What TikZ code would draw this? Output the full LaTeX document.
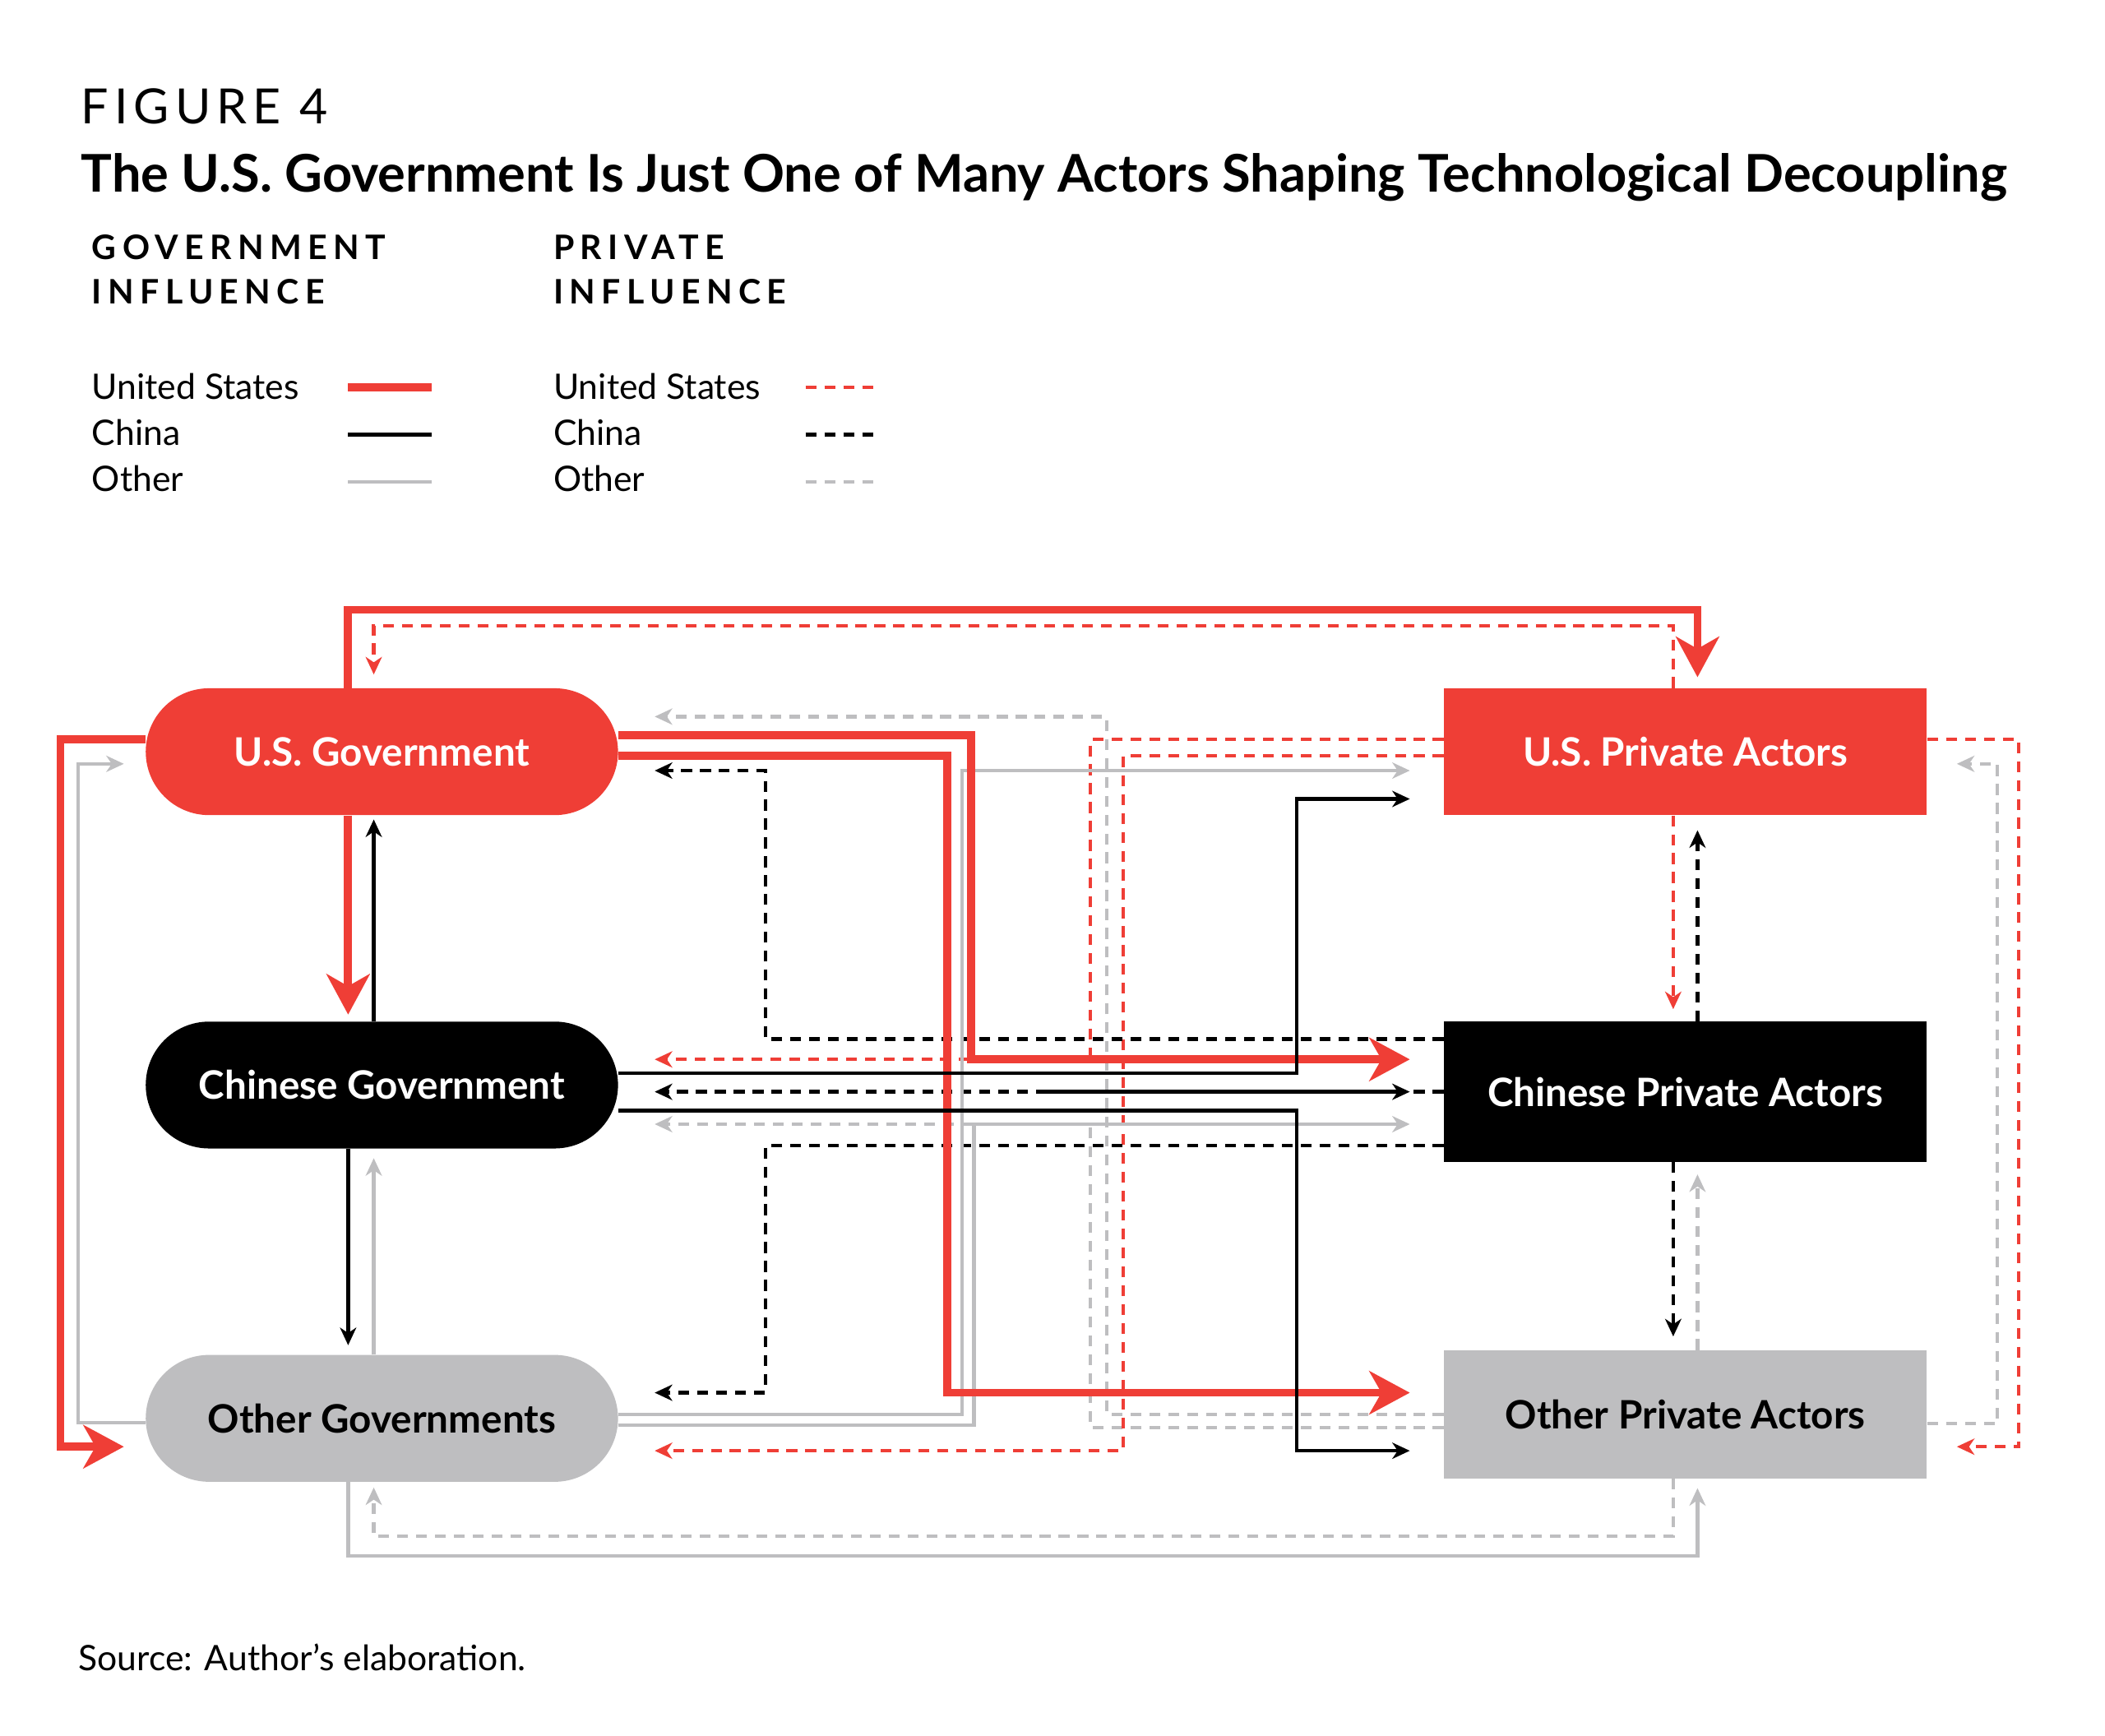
\documentclass[tikz,border=0pt]{standalone}
\usepackage{fontspec}
\setmainfont{Lato}
\usepackage{tikz}
\usetikzlibrary{arrows.meta, positioning, calc, shapes.misc}

\definecolor{usred}{RGB}{239,62,54}
\definecolor{othgray}{RGB}{190,190,192}

\begin{document}
\begin{tikzpicture}[
    x=1pt, y=-1pt,
    govnode/.style={rounded rectangle, minimum width=350pt, minimum height=94pt, inner sep=0pt, font=\fontsize{29}{34}\selectfont\bfseries},
    privnode/.style={rectangle, minimum width=358pt, minimum height=94pt, inner sep=0pt, font=\fontsize{29}{34}\selectfont\bfseries},
    thin/.style={line width=2.6pt, -{Stealth[length=13pt, width=12pt, inset=4pt]}},
    fat/.style={line width=6pt, color=usred, -{Stealth[length=30pt, width=32pt, inset=9pt]}},
    dsh/.style={thin, dash pattern=on 8pt off 6pt},
    legtext/.style={anchor=base west, inner sep=0pt, font=\fontsize{26}{30}\selectfont},
    leghead/.style={anchor=base west, inner sep=0pt, align=left, font=\fontsize{25}{33}\selectfont\bfseries\addfontfeatures{LetterSpace=18}}
]
    \useasboundingbox (0,0) rectangle (1560,1286);

    % --- Title ---
    \node[anchor=base west, inner sep=0pt, font=\fontsize{36}{40}\selectfont\addfontfeatures{LetterSpace=12}] (fig) at (60,92) {FIGURE 4};
    \node[anchor=base west, inner sep=0pt, font=\fontsize{38.5}{44}\selectfont\bfseries] (title) at (60,142) {The U.S. Government Is Just One of Many Actors Shaping Technological Decoupling};

    % --- Legend ---
    \node[leghead] (hgov) at (68,225) {GOVERNMENT\\INFLUENCE};
    \node[leghead] (hpriv) at (410,225) {PRIVATE\\INFLUENCE};
    \node[legtext] (lg1) at (68,296) {United States};
    \node[legtext] (lg2) at (68,330) {China};
    \node[legtext] (lg3) at (68,364) {Other};
    \node[legtext] (lp1) at (410,296) {United States};
    \node[legtext] (lp2) at (410,330) {China};
    \node[legtext] (lp3) at (410,364) {Other};
    \draw[line width=6pt, usred] (258,287) -- (320,287);
    \draw[line width=2.6pt] (258,322) -- (320,322);
    \draw[line width=2.6pt, othgray] (258,357) -- (320,357);
    \draw[line width=2.6pt, usred, dash pattern=on 8pt off 6pt] (597,287) -- (652,287);
    \draw[line width=2.6pt, dash pattern=on 8pt off 6pt] (597,322) -- (652,322);
    \draw[line width=2.6pt, othgray, dash pattern=on 8pt off 6pt] (597,357) -- (652,357);

    % --- Actors ---
    \node[govnode, fill=usred, text=white] (usg) at (283,557) {U.S. Government};
    \node[govnode, fill=black, text=white] (cng) at (283,804) {Chinese Government};
    \node[govnode, fill=othgray, text=black] (otg) at (283,1051) {Other Governments};
    \node[privnode, fill=usred, text=white] (usp) at (1249,557) {U.S. Private Actors};
    \node[privnode, fill=black, text=white, minimum height=104pt] (cnp) at (1249,809) {Chinese Private Actors};
    \node[privnode, fill=othgray, text=black, minimum height=95pt] (otp) at (1249,1048) {Other Private Actors};

    % --- Outer loops ---
    \draw[fat] ($(usg.north)+(-25,0)$) |- ($(usp.north)+(9,-58)$) -- ($(usp.north)+(9,-8)$);
    \draw[dsh, usred] ($(usp.north)+(-9,0)$) |- ($(usg.north)+(-6,-46)$) -- ($(usg.north)+(-6,-10)$);
    \draw[fat] ($(usg.west)+(0,-9)$) -| ($(otg.west)+(-63,21)$) -- ($(otg.west)+(-16,21)$);
    \draw[thin, othgray] ($(otg.west)+(0,3)$) -| ($(usg.west)+(-50,9)$) -- ($(usg.west)+(-16,9)$);
    \draw[thin, othgray] ($(otg.south)+(-25,0)$) |- ($(otp.south)+(9,57)$) -- ($(otp.south)+(9,7)$);
    \draw[dsh, othgray] ($(otp.south)+(-9,0)$) |- ($(otg.south)+(-6,40)$) -- ($(otg.south)+(-6,4)$);
    \draw[dsh, usred] ($(usp.east)+(0,-9)$) -| ($(otp.east)+(68,24)$) -- ($(otp.east)+(22,24)$);
    \draw[dsh, othgray] ($(otp.east)+(0,7)$) -| ($(usp.east)+(52,9)$) -- ($(usp.east)+(22,9)$);

    % --- Column links ---
    \draw[fat] ($(usg.south)+(-25,0)$) -- ($(cng.north)+(-25,-5)$);
    \draw[thin] ($(cng.north)+(-6,0)$) -- ($(usg.south)+(-6,3)$);
    \draw[thin] ($(cng.south)+(-25,0)$) -- ($(otg.north)+(-25,-7)$);
    \draw[thin, othgray] ($(otg.north)+(-6,0)$) -- ($(cng.south)+(-6,7)$);
    \draw[dsh, usred] ($(usp.south)+(-9,0)$) -- ($(cnp.north)+(-9,-9)$);
    \draw[dsh] ($(cnp.north)+(9,0)$) -- ($(usp.south)+(9,11)$);
    \draw[dsh] ($(cnp.south)+(-9,0)$) -- ($(otp.north)+(-9,-10)$);
    \draw[dsh, othgray] ($(otp.north)+(9,0)$) -- ($(cnp.south)+(9,9)$);

    % --- Private to government (dashed) ---
    \draw[dsh, othgray] (otp.west) -| ($(usg.east)+(362,-26)$) -- ($(usg.east)+(27,-26)$);
    \draw[dsh, othgray] ($(otp.west)+(0,10)$) -| ($(cng.east)+(350,29)$) -- ($(cng.east)+(27,29)$);
    \draw[dsh, usred] ($(usp.west)+(0,-9)$) -| ($(cng.east)+(350,-19)$) -- ($(cng.east)+(27,-19)$);
    \draw[dsh, usred] ($(usp.west)+(0,3)$) -| ($(otg.east)+(374,24)$) -- ($(otg.east)+(27,24)$);
    \draw[dsh] ($(cnp.west)+(0,-39)$) -| ($(usg.east)+(109,14)$) -- ($(usg.east)+(27,14)$);
    \draw[dsh] ($(cnp.west)+(0,40)$) -| ($(otg.east)+(109,-19)$) -- ($(otg.east)+(27,-19)$);
    \draw[dsh] (cnp.west) -- ($(cng.east)+(27,5)$);

    % --- Government to private (solid) ---
    \draw[thin, othgray] ($(otg.east)+(0,-3)$) -| ($(usp.west)+(-357,14)$) -- ($(usp.west)+(-25,14)$);
    \draw[thin, othgray] ($(otg.east)+(0,5)$) -| ($(cnp.west)+(-348,24)$) -- ($(cnp.west)+(-25,24)$);
    \draw[fat] ($(usg.east)+(0,-12)$) -| ($(cnp.west)+(-350,-24)$) -- ($(cnp.west)+(-25,-24)$);
    \draw[fat] ($(usg.east)+(0,3)$) -| ($(otp.west)+(-368,-16)$) -- ($(otp.west)+(-25,-16)$);
    \draw[thin] ($(cng.east)+(0,-9)$) -| ($(usp.west)+(-109,35)$) -- ($(usp.west)+(-25,35)$);
    \draw[thin] ($(cng.east)+(0,19)$) -| ($(otp.west)+(-109,27)$) -- ($(otp.west)+(-25,27)$);
    \coordinate (cnmid) at (775,809);
    \draw[thin] (cnmid) -- ($(cnp.west)+(-25,0)$);

    % --- Source ---
    \node[legtext] (src) at (58,1238) {Source: Author’s elaboration.};
\end{tikzpicture}
\end{document}
